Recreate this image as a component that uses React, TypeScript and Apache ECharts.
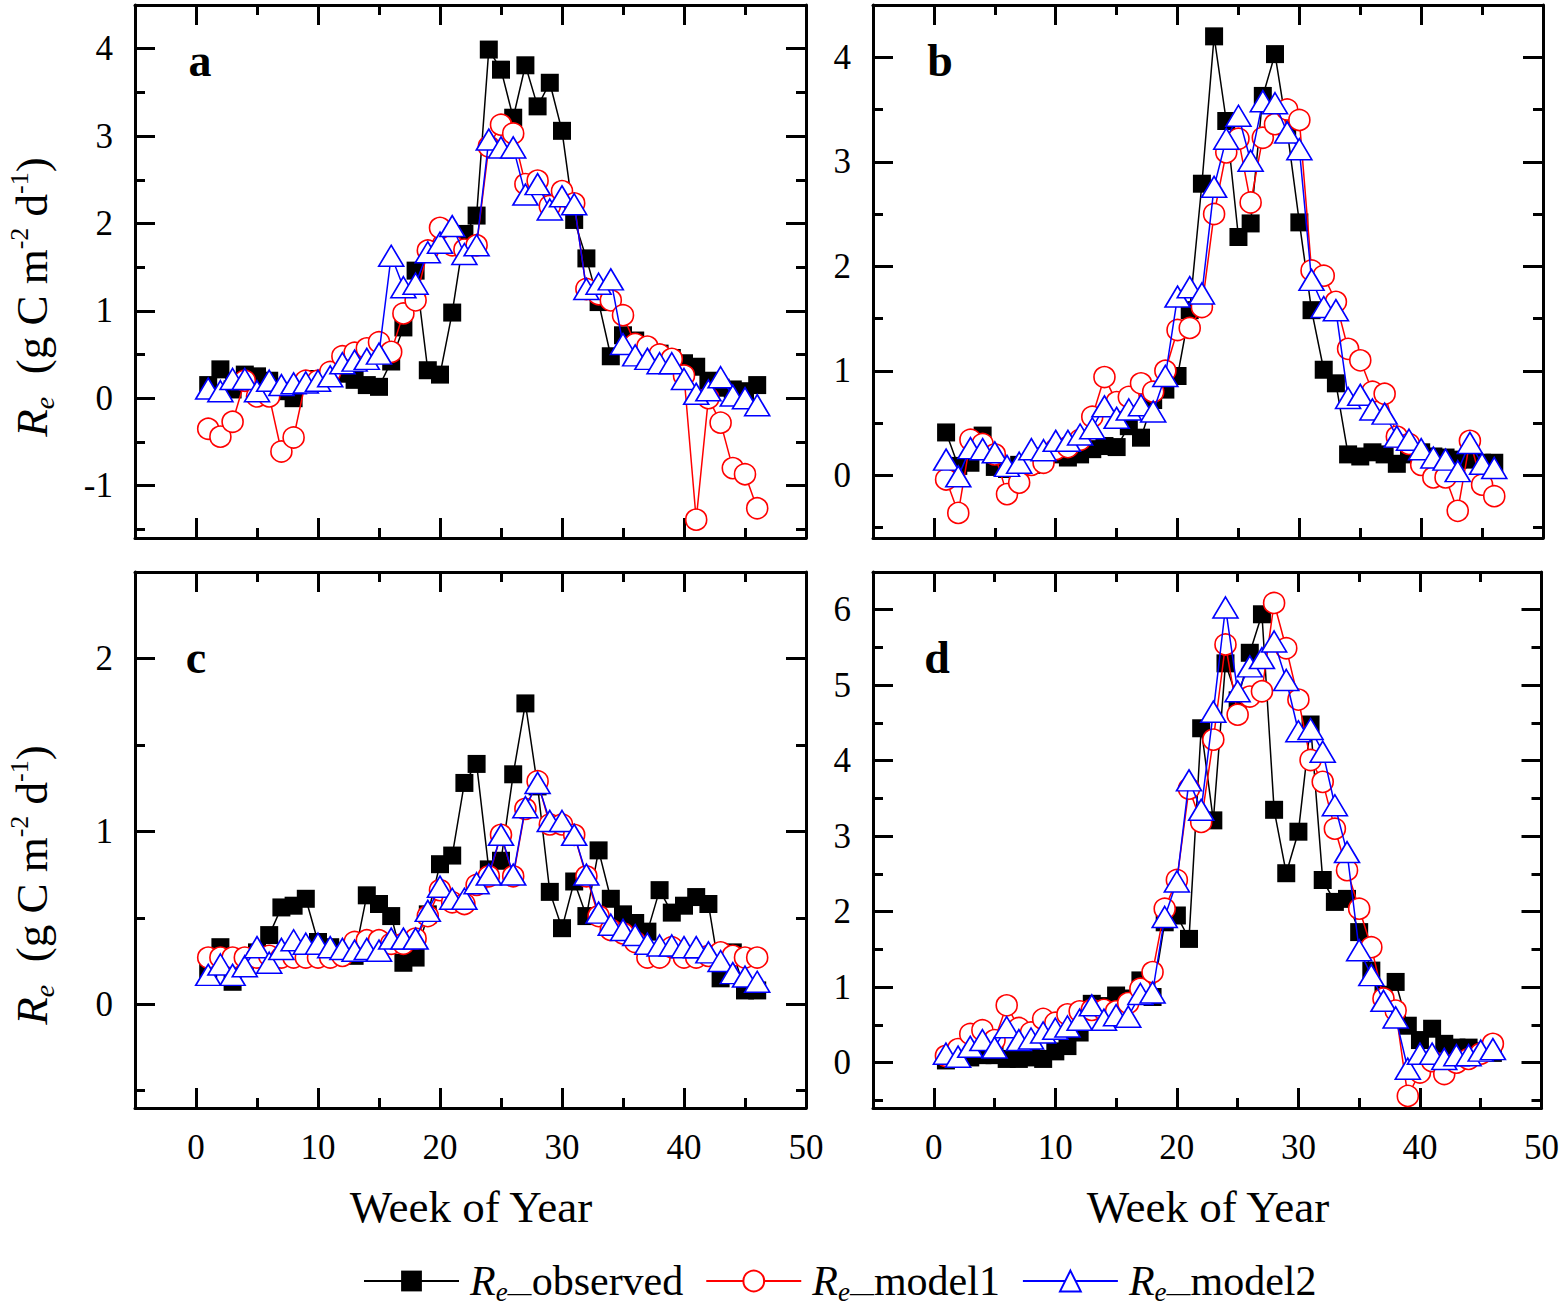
import React, { useEffect, useRef } from 'react';
import * as echarts from 'echarts';

const FONT = '"Liberation Serif", "Times New Roman", serif';

const weeks = [1, 2, 3, 4, 5, 6, 7, 8, 9, 10, 11, 12, 13, 14, 15, 16, 17, 18, 19, 20, 21, 22, 23,
  24, 25, 26, 27, 28, 29, 30, 31, 32, 33, 34, 35, 36, 37, 38, 39, 40, 41, 42, 43, 44, 45, 46];

const seriesNames = ['R_e_observed', 'R_e_model1', 'R_e_model2'];
const legendSuffix = ['observed', 'model1', 'model2'];
const panelLetters = ['a', 'b', 'c', 'd'];
const xTitle = 'Week of Year';

const xMajor = [0, 10, 20, 30, 40, 50];
const xMinor = [5, 15, 25, 35, 45];

// panel a
const aObs = [0.15, 0.33, 0.10, 0.27, 0.25, 0.20, 0.08, 0.00, 0.18, 0.22, 0.25, 0.28, 0.21, 0.15, 0.13, 0.42,
  0.81, 1.46, 0.32, 0.27, 0.98, 1.88, 2.09, 3.99, 3.76, 3.21, 3.81, 3.34, 3.61, 3.06, 2.04, 1.60, 1.10, 0.48,
  0.72, 0.66, 0.55, 0.51, 0.46, 0.40, 0.36, 0.20, 0.12, 0.10, 0.08, 0.15];
const aM1 = [-0.35, -0.44, -0.27, 0.20, 0.02, 0.02, -0.61, -0.45, 0.20, 0.20, 0.30, 0.48, 0.52, 0.57, 0.64, 0.53,
  0.97, 1.12, 1.69, 1.95, 1.75, 1.70, 1.75, 2.88, 3.13, 3.03, 2.45, 2.49, 2.20, 2.37, 2.23, 1.25, 1.19, 1.12,
  0.95, 0.62, 0.59, 0.50, 0.45, 0.26, -1.39, 0.00, -0.28, -0.80, -0.87, -1.26];
const aM2 = [0.11, 0.08, 0.22, 0.22, 0.08, 0.20, 0.15, 0.17, 0.18, 0.20, 0.25, 0.40, 0.43, 0.45, 0.51, 1.63,
  1.27, 1.31, 1.67, 1.78, 1.97, 1.65, 1.75, 2.96, 2.87, 2.87, 2.33, 2.45, 2.16, 2.31, 2.22, 1.25, 1.31, 1.36,
  0.62, 0.49, 0.45, 0.40, 0.40, 0.22, 0.05, 0.09, 0.24, 0.03, 0.00, -0.08];

// panel b
const bObs = [0.41, 0.09, 0.12, 0.38, 0.08, 0.06, 0.10, 0.10, 0.18, 0.20, 0.17, 0.20, 0.25, 0.28, 0.27, 0.47,
  0.36, 0.72, 0.82, 0.95, 1.58, 2.79, 4.20, 3.39, 2.28, 2.41, 3.63, 4.03, 3.30, 2.42, 1.58, 1.01, 0.88, 0.20,
  0.18, 0.22, 0.20, 0.11, 0.20, 0.22, 0.18, 0.17, 0.15, 0.15, 0.12, 0.12];
const bM1 = [-0.04, -0.36, 0.34, 0.30, 0.20, -0.18, -0.07, 0.10, 0.12, 0.25, 0.27, 0.34, 0.56, 0.94, 0.70, 0.75,
  0.88, 0.80, 1.00, 1.39, 1.41, 1.61, 2.50, 3.09, 3.22, 2.61, 3.23, 3.36, 3.50, 3.40, 1.96, 1.91, 1.66, 1.21,
  1.10, 0.80, 0.78, 0.37, 0.30, 0.10, -0.02, -0.02, -0.34, 0.33, -0.09, -0.20];
const bM2 = [0.15, -0.01, 0.26, 0.25, 0.22, 0.09, 0.12, 0.25, 0.24, 0.33, 0.33, 0.39, 0.45, 0.66, 0.55, 0.63,
  0.67, 0.61, 0.95, 1.71, 1.80, 1.74, 2.76, 3.22, 3.44, 3.01, 3.58, 3.56, 3.28, 3.12, 1.87, 1.61, 1.58, 0.74,
  0.77, 0.63, 0.59, 0.37, 0.34, 0.25, 0.17, 0.15, 0.04, 0.31, 0.11, 0.07];

// panel c
const cObs = [0.20, 0.33, 0.13, 0.25, 0.30, 0.40, 0.56, 0.57, 0.61, 0.36, 0.33, 0.30, 0.28, 0.63, 0.58, 0.51,
  0.24, 0.27, 0.52, 0.81, 0.86, 1.28, 1.39, 0.78, 0.83, 1.33, 1.74, 1.26, 0.65, 0.44, 0.71, 0.51, 0.89, 0.61,
  0.52, 0.47, 0.42, 0.66, 0.53, 0.57, 0.62, 0.58, 0.15, 0.30, 0.08, 0.08];
const cM1 = [0.27, 0.27, 0.27, 0.27, 0.27, 0.28, 0.27, 0.27, 0.27, 0.27, 0.27, 0.28, 0.36, 0.37, 0.37, 0.35,
  0.35, 0.38, 0.51, 0.66, 0.59, 0.58, 0.69, 0.74, 0.98, 0.74, 1.13, 1.29, 1.04, 1.04, 0.98, 0.74, 0.51, 0.43,
  0.41, 0.36, 0.27, 0.27, 0.33, 0.27, 0.27, 0.28, 0.30, 0.28, 0.27, 0.27];
const cM2 = [0.17, 0.23, 0.17, 0.22, 0.33, 0.24, 0.32, 0.37, 0.35, 0.35, 0.33, 0.32, 0.31, 0.32, 0.31, 0.38,
  0.38, 0.38, 0.54, 0.68, 0.61, 0.61, 0.70, 0.75, 0.98, 0.75, 1.14, 1.28, 1.06, 1.06, 0.98, 0.75, 0.53, 0.46,
  0.43, 0.40, 0.35, 0.34, 0.34, 0.33, 0.33, 0.30, 0.25, 0.18, 0.16, 0.13];

// panel d
const dObs = [0.03, 0.05, 0.07, 0.10, 0.10, 0.05, 0.05, 0.07, 0.05, 0.15, 0.22, 0.40, 0.78, 0.75, 0.89, 0.85,
  1.09, 0.87, 1.86, 1.95, 1.64, 4.43, 3.21, 5.29, 4.80, 5.43, 5.94, 3.35, 2.51, 3.06, 4.48, 2.42, 2.13, 2.17,
  1.73, 1.22, 0.90, 1.07, 0.49, 0.30, 0.45, 0.25, 0.20, 0.20, 0.15, 0.13];
const dM1 = [0.09, 0.18, 0.38, 0.43, 0.30, 0.76, 0.46, 0.40, 0.58, 0.53, 0.64, 0.68, 0.70, 0.70, 0.68, 0.79,
  0.98, 1.20, 2.04, 2.42, 3.63, 3.19, 4.28, 5.54, 4.61, 4.85, 4.92, 6.09, 5.49, 4.81, 4.01, 3.72, 3.10, 2.55,
  2.04, 1.53, 0.85, 0.69, -0.44, -0.13, 0.02, -0.15, 0.00, 0.05, 0.12, 0.25];
const dM2 = [0.12, 0.08, 0.21, 0.30, 0.20, 0.47, 0.30, 0.32, 0.40, 0.45, 0.48, 0.57, 0.76, 0.57, 0.63, 0.61,
  0.91, 0.93, 1.93, 2.40, 3.74, 3.35, 4.65, 6.03, 4.92, 5.25, 5.36, 5.58, 5.07, 4.39, 4.42, 4.12, 3.41, 2.79,
  1.49, 1.16, 0.82, 0.60, -0.08, 0.12, 0.12, 0.05, 0.10, 0.10, 0.16, 0.18];

// y ranges and tick values per panel
const yRanges = [[-1.6, 4.5], [-0.6, 4.5], [-0.6, 2.5], [-0.6, 6.5]];
const yMajorA = [-1, 0, 1, 2, 3, 4];
const yMinorA = [-1.5, -0.5, 0.5, 1.5, 2.5, 3.5];
const yMajorB = [0, 1, 2, 3, 4];
const yMinorB = [-0.5, 0.5, 1.5, 2.5, 3.5];
const yMajorC = [0, 1, 2];
const yMinorC = [-0.5, 0.5, 1.5];
const yMajorD = [0, 1, 2, 3, 4, 5, 6];
const yMinorD = [-0.5, 0.5, 1.5, 2.5, 3.5, 4.5, 5.5];

const panelData = [[aObs, aM1, aM2], [bObs, bM1, bM2], [cObs, cM1, cM2], [dObs, dM1, dM2]];
const panelYTicks = [[yMajorA, yMinorA], [yMajorB, yMinorB], [yMajorC, yMinorC], [yMajorD, yMinorD]];

// layout
const grids = [
  { left: 135, top: 5, width: 671, height: 533 },
  { left: 873, top: 5, width: 670, height: 533 },
  { left: 135, top: 572, width: 671, height: 536 },
  { left: 873, top: 572, width: 670, height: 536 },
];

export default function App() {
  const ref = useRef<HTMLDivElement>(null);
  useEffect(() => {
    document.body.style.margin = '0';
    const chart = echarts.init(ref.current as HTMLDivElement, null, { renderer: 'svg' });
    const tickLine = { color: '#000', width: 3 };
    const frameLine = { show: true, onZero: false, lineStyle: { color: '#000', width: 3 } };
    const hiddenLine = { show: false, onZero: false };
    const labelStyle = { fontFamily: FONT, fontSize: 35, color: '#000' };

    const xAxis: any[] = [];
    const yAxis: any[] = [];
    const series: any[] = [];
    grids.forEach((_, gi) => {
      const showX = gi >= 2;
      const bx = { gridIndex: gi, type: 'value', min: -5, max: 50, splitLine: { show: false } };
      xAxis.push(
        { ...bx, position: 'bottom', axisLine: frameLine,
          axisTick: { show: true, inside: true, length: 20, customValues: xMajor, lineStyle: tickLine },
          axisLabel: { show: showX, customValues: xMajor, margin: 22, ...labelStyle } },
        { ...bx, position: 'bottom', axisLine: hiddenLine,
          axisTick: { show: true, inside: true, length: 10, customValues: xMinor, lineStyle: tickLine },
          axisLabel: { show: false } },
        { ...bx, position: 'top', axisLine: frameLine,
          axisTick: { show: true, inside: true, length: 20, customValues: xMajor, lineStyle: tickLine },
          axisLabel: { show: false } },
        { ...bx, position: 'top', axisLine: hiddenLine,
          axisTick: { show: true, inside: true, length: 10, customValues: xMinor, lineStyle: tickLine },
          axisLabel: { show: false } },
      );
      const [ymin, ymax] = yRanges[gi];
      const [yMaj, yMin] = panelYTicks[gi];
      const by = { gridIndex: gi, type: 'value', min: ymin, max: ymax, splitLine: { show: false } };
      yAxis.push(
        { ...by, position: 'left', axisLine: frameLine,
          axisTick: { show: true, inside: true, length: 20, customValues: yMaj, lineStyle: tickLine },
          axisLabel: { show: true, customValues: yMaj, margin: 22, ...labelStyle } },
        { ...by, position: 'left', axisLine: hiddenLine,
          axisTick: { show: true, inside: true, length: 10, customValues: yMin, lineStyle: tickLine },
          axisLabel: { show: false } },
        { ...by, position: 'right', axisLine: frameLine,
          axisTick: { show: true, inside: true, length: 20, customValues: yMaj, lineStyle: tickLine },
          axisLabel: { show: false } },
        { ...by, position: 'right', axisLine: hiddenLine,
          axisTick: { show: true, inside: true, length: 10, customValues: yMin, lineStyle: tickLine },
          axisLabel: { show: false } },
      );
      const [obs, m1, m2] = panelData[gi];
      const common = { type: 'line', xAxisIndex: gi * 4, yAxisIndex: gi * 4, showAllSymbol: true, clip: false };
      series.push(
        { ...common, name: seriesNames[0], data: weeks.map((w, i) => [w, obs[i]]),
          symbol: 'rect', symbolSize: 18, itemStyle: { color: '#000' },
          lineStyle: { color: '#000', width: 1.5 }, z: 2 },
        { ...common, name: seriesNames[1], data: weeks.map((w, i) => [w, m1[i]]),
          symbol: 'circle', symbolSize: 21,
          itemStyle: { color: '#fff', borderColor: '#ff0000', borderWidth: 1.6 },
          lineStyle: { color: '#ff0000', width: 1.5 }, z: 3 },
        { ...common, name: seriesNames[2], data: weeks.map((w, i) => [w, m2[i]]),
          symbol: 'triangle', symbolSize: [25, 21],
          itemStyle: { color: '#fff', borderColor: '#0000ff', borderWidth: 1.6 },
          lineStyle: { color: '#0000ff', width: 1.5 }, z: 4 },
      );
    });

    const graphic: any[] = [];
    const letterPos = [[200, 60], [940, 60], [196, 657], [937, 657]];
    panelLetters.forEach((l, i) => {
      graphic.push({
        type: 'text', x: letterPos[i][0], y: letterPos[i][1],
        style: { text: l, fontFamily: FONT, fontSize: 46, fontWeight: 'bold', fill: '#000',
          align: 'center', verticalAlign: 'middle', textAlign: 'center', textVerticalAlign: 'middle' },
      });
    });
    const titleRich = {
      r: { fontFamily: FONT, fontSize: 45, fontStyle: 'italic', fill: '#000', color: '#000', lineHeight: 52 },
      sub: { fontFamily: FONT, fontSize: 28, fontStyle: 'italic', fill: '#000', color: '#000',
        lineHeight: 28, padding: [28, 0, 0, 0], verticalAlign: 'bottom' },
      sup: { fontFamily: FONT, fontSize: 26, fill: '#000', color: '#000',
        lineHeight: 26, padding: [0, 0, 28, 0], verticalAlign: 'top' },
      n: { fontFamily: FONT, fontSize: 45, fill: '#000', color: '#000', lineHeight: 52 },
    };
    const yTitle = '{r|R}{sub|e}{n|  (g C m}{sup|-2}{n| d}{sup|-1}{n|)}';
    [[32, 297], [32, 885]].forEach(([x, y]) => {
      graphic.push({
        type: 'text', x, y, rotation: Math.PI / 2,
        style: { text: yTitle, rich: titleRich, fontFamily: FONT, fontSize: 45, fill: '#000',
          align: 'center', verticalAlign: 'middle', textAlign: 'center', textVerticalAlign: 'middle' },
      });
    });
    [[471, 1207], [1208, 1207]].forEach(([x, y]) => {
      graphic.push({
        type: 'text', x, y,
        style: { text: xTitle, fontFamily: FONT, fontSize: 45, fill: '#000',
          align: 'center', verticalAlign: 'middle', textAlign: 'center', textVerticalAlign: 'middle' },
      });
    });

    const option: any = {
      animation: false,
      backgroundColor: '#fff',
      grid: grids.map((g) => ({ ...g, containLabel: false })),
      xAxis,
      yAxis,
      series,
      graphic,
      legend: {
        data: seriesNames,
        left: 358,
        top: 1249,
        itemWidth: 95,
        itemHeight: 26,
        itemGap: 22,
        formatter: (name: string) => `{r|R}{s|e\u2014}${legendSuffix[seriesNames.indexOf(name)]}`,
        textStyle: {
          fontFamily: FONT, fontSize: 42, color: '#000', lineHeight: 48,
          rich: {
            r: { fontFamily: FONT, fontSize: 42, fontStyle: 'italic', color: '#000', lineHeight: 48,
              padding: [0, 0, 0, 6] },
            s: { fontFamily: FONT, fontSize: 27, fontStyle: 'italic', color: '#000',
              lineHeight: 27, padding: [24, 0, 0, 0], verticalAlign: 'bottom' },
          },
        },
      },
    };
    chart.setOption(option);
    return () => chart.dispose();
  }, []);
  return <div ref={ref} style={{ width: 1562, height: 1313 }} />;
}
